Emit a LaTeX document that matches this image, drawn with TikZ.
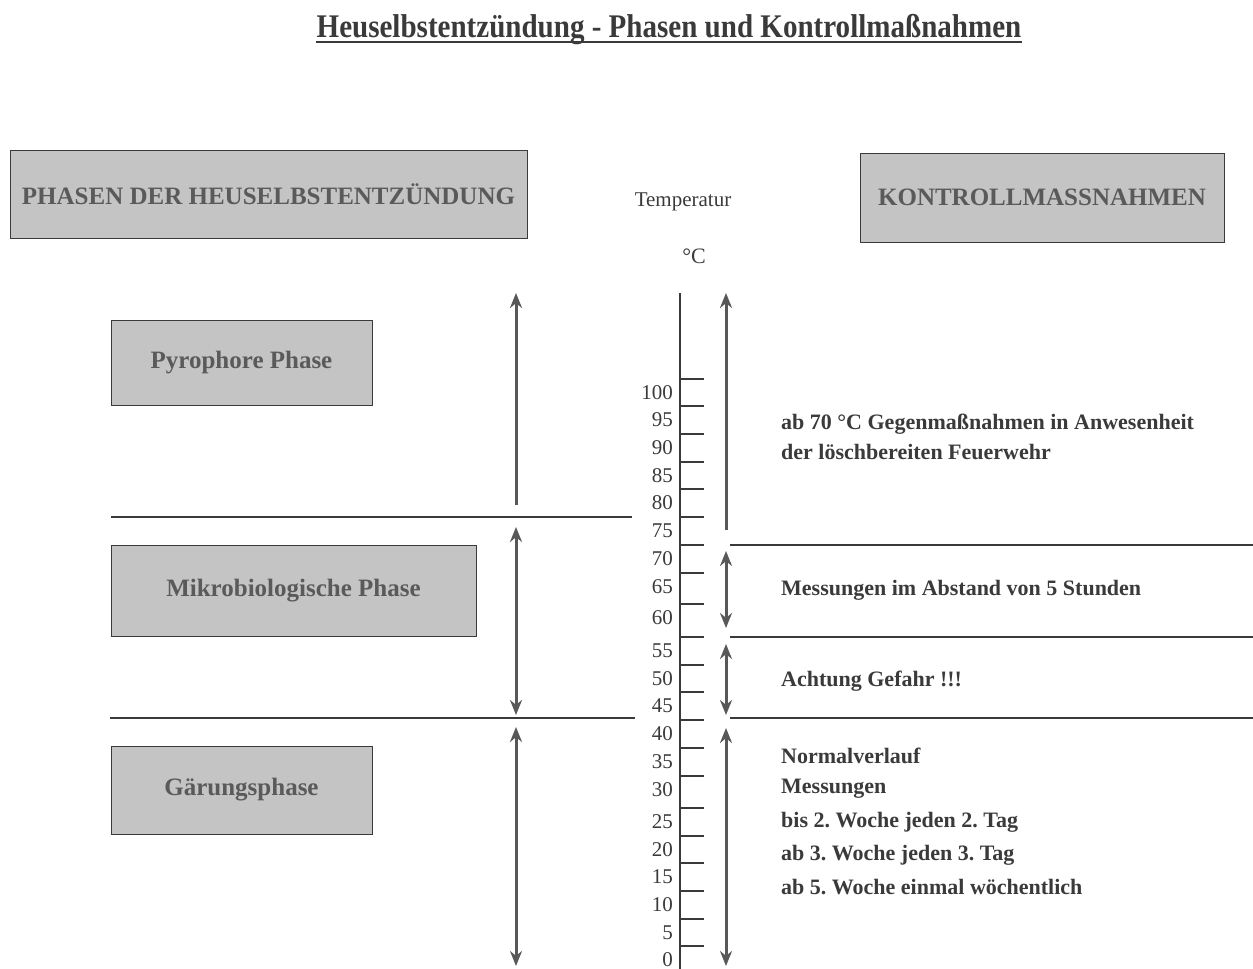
\documentclass[tikz,border=0pt]{standalone}
\usepackage{fontspec}
\setmainfont{Liberation Serif}
\frenchspacing
\usetikzlibrary{arrows.meta}
\definecolor{ink}{HTML}{3A3A3A}
\definecolor{boxfill}{HTML}{C4C4C4}
\definecolor{boxtext}{HTML}{5A5A5A}
\begin{document}
\begin{tikzpicture}[x=1pt, y=-1pt,
    every node/.style={text=ink, inner sep=0pt},
    headbox/.style={draw=ink, fill=boxfill, text=boxtext, font=\fontsize{25}{28}\selectfont\bfseries},
    phasebox/.style={draw=ink, fill=boxfill, text=boxtext, font=\fontsize{25}{28}\selectfont\bfseries},
    note/.style={anchor=west, font=\fontsize{22}{26}\selectfont\bfseries},
    scalelabel/.style={anchor=east, font=\fontsize{21}{24}\selectfont},
    arrow/.style={>={Stealth[length=15pt, width=12pt]}, line width=3pt, draw=ink!85},
    sep/.style={line width=1.2pt, draw=ink}
]
\useasboundingbox (0,0) rectangle (1253,969);

% Titel
\node[font=\fontsize{33}{36}\selectfont\bfseries, anchor=base] (title) at (669,37)
  {\scalebox{0.88}[1]{Heuselbstentzündung - Phasen und Kontrollmaßnahmen}};
\draw[line width=2.4pt, ink] ([yshift=-5pt]title.base west) -- ([yshift=-5pt]title.base east);

% Kopfzeilen
\node[headbox, minimum width=517pt, minimum height=88pt] (phasen) at (268.5,194) {PHASEN DER HEUSELBSTENTZÜNDUNG};
\node[headbox, minimum width=364pt, minimum height=89pt] (kontrolle) at (1042,197.5) {KONTROLLMASSNAHMEN};
\node[font=\fontsize{21}{24}\selectfont] (temp) at (683,202) {Temperatur};
\node[font=\fontsize{22}{24}\selectfont] (grad) at (694,256) {°C};

% Phasen
\node[phasebox, minimum width=261pt, minimum height=85pt] (pyro) at (241.5,362.5) {Pyrophore Phase};
\node[phasebox, minimum width=365pt, minimum height=91pt] (mikro) at (293.5,590.5) {Mikrobiologische Phase};
\node[phasebox, minimum width=261pt, minimum height=88pt] (gaer) at (241.5,790) {Gärungsphase};

% Trennlinien
\draw[sep] (111,517) -- (632,517);
\draw[sep] (110,718) -- (635,718);
\draw[sep] (730,545) -- (1253,545);
\draw[sep] (730,637) -- (1253,637);
\draw[sep] (730,718) -- (1253,718);

% Temperaturskala
\draw[line width=1.6pt, ink] (680,293) -- (680,969);
\foreach \t/\y in {100/393, 95/420, 90/448, 85/476, 80/503, 75/531, 70/559,
                   65/587, 60/618, 55/651, 50/679, 45/706, 40/734, 35/762,
                   30/790, 25/822, 20/850, 15/877, 10/905, 5/933, 0/960} {
  \node[scalelabel] at (673,\y) {\t};
  \draw[line width=1.4pt, ink] (681,\y-14) -- (704,\y-14);
}

% Pfeile Phasen
\draw[arrow, ->] (516,505) -- (516,293);
\draw[arrow, <->] (516,527) -- (516,715);
\draw[arrow, <->] (516,727) -- (516,966);

% Pfeile Massnahmen
\draw[arrow, ->] (726,530) -- (726,293);
\draw[arrow, <->] (726,551) -- (726,628);
\draw[arrow, <->] (726,644) -- (726,715);
\draw[arrow, <->] (726,728) -- (726,966);

% Massnahmen
\node[note] (m1) at (781,424) {ab 70 °C Gegenmaßnahmen in Anwesenheit};
\node[note] (m2) at (781,452) {der löschbereiten Feuerwehr};
\node[note] (m3) at (781,590) {Messungen im Abstand von 5 Stunden};
\node[note] (m4) at (781,681) {Achtung Gefahr !!!};
\node[note] (m5) at (781,756) {Normalverlauf};
\node[note] (m6) at (781,789) {Messungen};
\node[note] (m7) at (781,822) {bis 2. Woche jeden 2. Tag};
\node[note] (m8) at (781,855) {ab 3. Woche jeden 3. Tag};
\node[note] (m9) at (781,887) {ab 5. Woche einmal wöchentlich};

\end{tikzpicture}
\end{document}
